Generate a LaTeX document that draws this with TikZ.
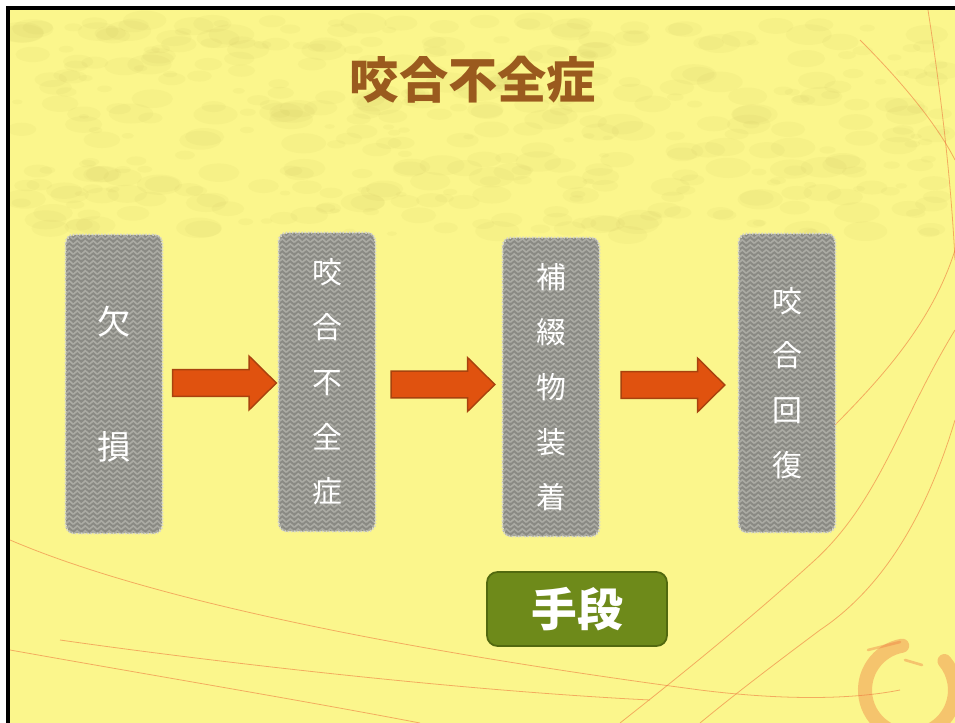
\documentclass[tikz,border=0pt]{standalone}
\usepackage{fontspec}
\newfontfamily\cjk{Noto Sans CJK JP}
\usetikzlibrary{calc}

\definecolor{slide}{HTML}{FBF68C}
\definecolor{mottle}{HTML}{B0A445}
\definecolor{titlebrown}{HTML}{9A5A1E}
\definecolor{boxgray}{HTML}{8A8A84}
\definecolor{herb}{HTML}{ABABA4}
\definecolor{boxedge}{HTML}{D8D8CC}
\definecolor{arrowfill}{HTML}{E0520F}
\definecolor{arrowedge}{HTML}{A8420E}
\definecolor{meansgreen}{HTML}{6E8A1A}
\definecolor{meansedge}{HTML}{52690F}
\definecolor{thread}{HTML}{EE7A40}

\tikzset{
  stepcol/.style={rounded corners=5pt, minimum width=1.92cm, minimum height=5.96cm,
    fill=boxgray, draw=boxedge, densely dotted, line width=0.8pt},
  steptext/.style={text=white, align=center, font=\cjk\fontsize{17}{31.2}\selectfont},
  blockarrow/.style={fill=arrowfill, draw=arrowedge, line width=0.8pt,
    to path={let \p1=($(\tikztostart.east)!0.5!(\tikztotarget.west)+(4,0)$) in
      (\x1-29.5pt,\y1+7.6pt) -- (\x1+14pt,\y1+7.6pt) -- (\x1+14pt,\y1+15.3pt)
      -- (\x1+29.5pt,\y1) -- (\x1+14pt,\y1-15.3pt) -- (\x1+14pt,\y1-7.6pt)
      -- (\x1-29.5pt,\y1-7.6pt) -- cycle}},
  threadline/.style={thread, line width=0.45pt, opacity=0.6},
}

\begin{document}
\begin{tikzpicture}[x=0.2mm, y=-0.2mm]
    \useasboundingbox (0,0) rectangle (955,723);

    % Slide background
    \fill[white] (0,0) rectangle (955,723);
    \fill[slide] (8,8) rectangle (955,723);
    \begin{scope}
        \clip (8,8) rectangle (955,250);
        \pgfmathsetseed{42}
        \foreach \i in {1,...,420}{
            \pgfmathsetmacro\mx{15+rnd*930}
            \pgfmathsetmacro\my{20+rnd*215}
            \pgfmathsetmacro\mr{5+rnd*18}
            \fill[mottle, opacity=0.06] (\mx,\my) ellipse[x radius=\mr, y radius=0.45*\mr];
        }
    \end{scope}

    % Thin threads on the right and at the bottom
    \draw[threadline] (928,10) .. controls (945,120) and (952,200) .. (955,260);
    \draw[threadline] (860,40) .. controls (920,100) and (945,140) .. (955,160);
    \draw[threadline] (955,330) .. controls (900,420) and (880,500) .. (815,560)
        .. controls (760,610) and (700,660) .. (620,723);
    \draw[threadline] (955,420) .. controls (925,520) and (880,590) .. (820,630)
        .. controls (780,660) and (740,690) .. (700,723);
    \draw[threadline] (955,250) .. controls (930,330) and (870,390) .. (820,440);
    \draw[threadline] (10,540) .. controls (150,600) and (400,650) .. (700,690)
        .. controls (780,700) and (850,700) .. (900,690);
    \draw[threadline] (10,650) .. controls (150,675) and (300,700) .. (420,723);
    \draw[threadline] (60,640) .. controls (200,660) and (450,690) .. (650,700);
    \draw[thread, opacity=0.4, line width=8pt, line cap=round]
        (910,690) ++(260:45) arc[start angle=260, end angle=-40, radius=45];
    \draw[thread, opacity=0.4, line width=1.5pt, line cap=round] (868,650) -- (900,642);
    \draw[thread, opacity=0.4, line width=1.5pt, line cap=round] (905,660) -- (922,665);

    % Slide frame
    \draw[line width=1.8pt] (8,723) -- (8,8) -- (955,8);

    % Title
    \node[text=titlebrown, font=\cjk\bfseries\fontsize{28}{32}\selectfont] (title) at (473,80) {咬合不全症};

    % Step columns
    \node[stepcol] (b1) at (114,384) {};
    \node[stepcol] (b2) at (327,382) {};
    \node[stepcol] (b3) at (551,387) {};
    \node[stepcol] (b4) at (787,383) {};

    % Herringbone texture inside the columns
    \foreach \b in {b1,b2,b3,b4}{
        \begin{scope}
            \clip[rounded corners=5pt] (\b.south west) rectangle (\b.north east);
            \begin{scope}[shift={(\b.north west)}]
                \foreach \c in {0,...,11}{
                    \draw[herb, line width=0.9pt]
                        \foreach \r in {0,...,61}{ (\c*8,\r*5) -- ++(4,-3.5) -- ++(4,3.5) };
                }
            \end{scope}
        \end{scope}
        \draw[boxedge, densely dotted, line width=0.8pt, rounded corners=5pt]
            (\b.south west) rectangle (\b.north east);
    }

    % Step labels
    \node[steptext, font=\cjk\fontsize{19}{23}\selectfont] (t1) at (b1) {欠\\[48pt]損};
    \node[steptext] (t2) at (b2) {咬\\合\\不\\全\\症};
    \node[steptext] (t3) at (b3) {補\\綴\\物\\装\\着};
    \node[steptext] (t4) at (b4) {咬\\合\\回\\復};

    % Arrows between the steps
    \path[blockarrow] (b1) to (b2);
    \path[blockarrow] (b2) to (b3);
    \path[blockarrow] (b3) to (b4);

    % Means label
    \node[fill=meansgreen, draw=meansedge, line width=1pt, rounded corners=6pt,
        minimum width=3.6cm, minimum height=1.48cm, text=white,
        font=\cjk\bfseries\fontsize{26}{30}\selectfont] (means) at (577,609) {手段};
\end{tikzpicture}
\end{document}
